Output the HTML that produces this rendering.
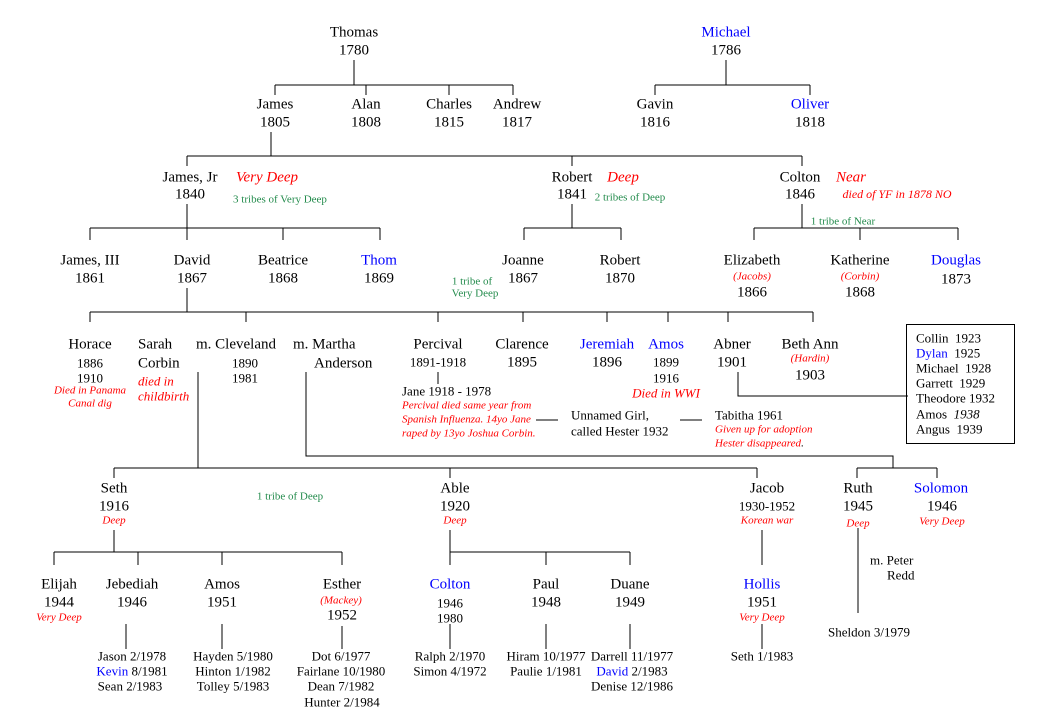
<!DOCTYPE html>
<html><head><meta charset="utf-8"><style>
body{margin:0;width:1043px;height:715px;background:#fff;position:relative;overflow:hidden;font-family:"Liberation Serif",serif;color:#000}
.t{position:absolute;transform:translate(-50%,-50%);white-space:nowrap;font-size:15px;line-height:1}
.l{position:absolute;transform:translateY(-50%);white-space:nowrap;font-size:13px;line-height:1}
.s{font-size:13px}
.b{color:#0000ff}
.r{color:#ff0000;font-style:italic;font-size:11px}
.rb{color:#ff0000;font-style:italic;font-size:15px}
.g{color:#238b4c;font-size:11px}
svg{position:absolute;left:0;top:0}
</style></head><body>
<svg width="1043" height="715" stroke="#000" stroke-width="1" fill="none" shape-rendering="crispEdges">
<path d="M354 60V85M275 85H513M275 85V95M366 85V95M449 85V95M513 85V95"/>
<path d="M726 60V85M655 85H810M655 85V95M810 85V95"/>
<path d="M271 132V156M187 156H802M187 156V166M572 156V166M802 156V166"/>
<path d="M187 204V228M90 228H380M90 228V240M187 228V240M283 228V240M380 228V240"/>
<path d="M572 204V228M524 228H621M524 228V240M621 228V240"/>
<path d="M802 204V228M754 228H958M754 228V240M860 228V240M958 228V240"/>
<path d="M187 288V312M90 312H813M90 312V322M246 312V322M438 312V322M523 312V322M607 312V322M668 312V322M728 312V322M813 312V322"/>
<path d="M438 372V384M536 420H558M680 420H702"/>
<path d="M738 372V396H908"/>
<rect x="906.5" y="324.5" width="108" height="119"/>
<path d="M198 372V468M114 468H757M114 468V478M450 468V478M757 468V478"/>
<path d="M306 372V456H893V468M857 468H937M857 468V478M937 468V478"/>
<path d="M114 530V552M54 552H342M54 552V565M138 552V565M222 552V565M342 552V565"/>
<path d="M126 624V649M222 624V649M342 626V649"/>
<path d="M450 530V552H630M450 552V565M546 552V565M630 552V565"/>
<path d="M450 624V649M546 624V649M630 624V649"/>
<path d="M762 530V565M762 624V649M858 528V613"/>
</svg>

<div class="t" style="left:354px;top:33px">Thomas</div><div class="t" style="left:354px;top:51px">1780</div>
<div class="t b" style="left:726px;top:33px">Michael</div><div class="t" style="left:726px;top:51px">1786</div>

<div class="t" style="left:275px;top:105px">James</div><div class="t" style="left:275px;top:123px">1805</div>
<div class="t" style="left:366px;top:105px">Alan</div><div class="t" style="left:366px;top:123px">1808</div>
<div class="t" style="left:449px;top:105px">Charles</div><div class="t" style="left:449px;top:123px">1815</div>
<div class="t" style="left:517px;top:105px">Andrew</div><div class="t" style="left:517px;top:123px">1817</div>
<div class="t" style="left:655px;top:105px">Gavin</div><div class="t" style="left:655px;top:123px">1816</div>
<div class="t b" style="left:810px;top:105px">Oliver</div><div class="t" style="left:810px;top:123px">1818</div>

<div class="t" style="left:190px;top:178px">James, Jr</div><div class="t" style="left:190px;top:195px">1840</div>
<div class="t rb" style="left:267px;top:178px">Very Deep</div>
<div class="t g" style="left:280px;top:200px">3 tribes of Very Deep</div>
<div class="t" style="left:572px;top:178px">Robert</div><div class="t" style="left:572px;top:195px">1841</div>
<div class="t rb" style="left:623px;top:178px">Deep</div>
<div class="t g" style="left:630px;top:198px">2 tribes of Deep</div>
<div class="t" style="left:800px;top:178px">Colton</div><div class="t" style="left:800px;top:195px">1846</div>
<div class="t rb" style="left:851px;top:178px">Near</div>
<div class="t r" style="left:897px;top:194px;font-size:12px">died of YF in 1878 NO</div>
<div class="t g" style="left:843px;top:222px">1 tribe of Near</div>

<div class="t" style="left:90px;top:261px">James, III</div><div class="t" style="left:90px;top:279px">1861</div>
<div class="t" style="left:192px;top:261px">David</div><div class="t" style="left:192px;top:279px">1867</div>
<div class="t" style="left:283px;top:261px">Beatrice</div><div class="t" style="left:283px;top:279px">1868</div>
<div class="t b" style="left:379px;top:261px">Thom</div><div class="t" style="left:379px;top:279px">1869</div>
<div class="t" style="left:523px;top:261px">Joanne</div><div class="t" style="left:523px;top:279px">1867</div>
<div class="t" style="left:620px;top:261px">Robert</div><div class="t" style="left:620px;top:279px">1870</div>
<div class="t g" style="left:472px;top:282px">1 tribe of</div><div class="t g" style="left:475px;top:294px">Very Deep</div>
<div class="t" style="left:752px;top:261px">Elizabeth</div><div class="t r" style="left:752px;top:277px">(Jacobs)</div><div class="t" style="left:752px;top:293px">1866</div>
<div class="t" style="left:860px;top:261px">Katherine</div><div class="t r" style="left:860px;top:277px">(Corbin)</div><div class="t" style="left:860px;top:293px">1868</div>
<div class="t b" style="left:956px;top:261px">Douglas</div><div class="t" style="left:956px;top:280px">1873</div>

<div class="t" style="left:90px;top:345px">Horace</div><div class="t s" style="left:90px;top:363px">1886</div><div class="t s" style="left:90px;top:378px">1910</div>
<div class="t r" style="left:90px;top:391px">Died in Panama</div><div class="t r" style="left:90px;top:404px">Canal dig</div>
<div class="l" style="left:138px;top:345px;font-size:15px">Sarah</div><div class="l" style="left:138px;top:364px;font-size:15px">Corbin</div>
<div class="l r" style="left:138px;top:381px;font-size:13px">died in</div><div class="l r" style="left:138px;top:396px;font-size:13px">childbirth</div>
<div class="t" style="left:236px;top:345px">m. Cleveland</div><div class="t s" style="left:245px;top:363px">1890</div><div class="t s" style="left:245px;top:378px">1981</div>
<div class="l" style="left:293px;top:345px;font-size:15px">m. Martha</div><div class="l" style="left:314px;top:364px;font-size:15px">Anderson</div>
<div class="t" style="left:438px;top:345px">Percival</div><div class="t s" style="left:438px;top:362px">1891-1918</div>
<div class="l" style="left:402px;top:391px">Jane 1918 - 1978</div>
<div class="l r" style="left:402px;top:406px">Percival died same year from</div>
<div class="l r" style="left:402px;top:420px">Spanish Influenza. 14yo Jane</div>
<div class="l r" style="left:402px;top:434px">raped by 13yo Joshua Corbin.</div>
<div class="t" style="left:522px;top:345px">Clarence</div><div class="t" style="left:522px;top:363px">1895</div>
<div class="t b" style="left:607px;top:345px">Jeremiah</div><div class="t" style="left:607px;top:363px">1896</div>
<div class="t b" style="left:666px;top:345px">Amos</div><div class="t s" style="left:666px;top:362px">1899</div><div class="t s" style="left:666px;top:378px">1916</div>
<div class="t r" style="left:666px;top:393px;font-size:13px">Died in WWI</div>
<div class="t" style="left:732px;top:345px">Abner</div><div class="t" style="left:732px;top:363px">1901</div>
<div class="t" style="left:810px;top:345px">Beth Ann</div><div class="t r" style="left:810px;top:359px">(Hardin)</div><div class="t" style="left:810px;top:376px">1903</div>
<div class="l" style="left:571px;top:415px">Unnamed Girl,</div><div class="l" style="left:571px;top:431px">called Hester 1932</div>
<div class="l" style="left:715px;top:415px">Tabitha 1961</div>
<div class="l r" style="left:715px;top:430px">Given up for adoption</div>
<div class="l r" style="left:715px;top:444px">Hester disappeared<span style="color:#000">.</span></div>
<div class="l" style="left:916px;top:338px">Collin&nbsp; 1923</div>
<div class="l" style="left:916px;top:353px"><span class="b">Dylan</span>&nbsp; 1925</div>
<div class="l" style="left:916px;top:368px">Michael&nbsp; 1928</div>
<div class="l" style="left:916px;top:383px">Garrett&nbsp; 1929</div>
<div class="l" style="left:916px;top:398px">Theodore&nbsp;1932</div>
<div class="l" style="left:916px;top:414px">Amos&nbsp; <i>1938</i></div>
<div class="l" style="left:916px;top:429px">Angus&nbsp; 1939</div>

<div class="t" style="left:114px;top:489px">Seth</div><div class="t" style="left:114px;top:507px">1916</div><div class="t r" style="left:114px;top:521px">Deep</div>
<div class="t g" style="left:290px;top:497px">1 tribe of Deep</div>
<div class="t" style="left:455px;top:489px">Able</div><div class="t" style="left:455px;top:507px">1920</div><div class="t r" style="left:455px;top:521px">Deep</div>
<div class="t" style="left:767px;top:489px">Jacob</div><div class="t s" style="left:767px;top:506px">1930-1952</div><div class="t r" style="left:767px;top:521px">Korean war</div>
<div class="t" style="left:858px;top:489px">Ruth</div><div class="t" style="left:858px;top:507px">1945</div><div class="t r" style="left:858px;top:524px">Deep</div>
<div class="t b" style="left:941px;top:489px">Solomon</div><div class="t" style="left:942px;top:507px">1946</div><div class="t r" style="left:942px;top:522px">Very Deep</div>
<div class="l" style="left:870px;top:560px">m. Peter</div><div class="l" style="left:887px;top:575px">Redd</div>
<div class="t s" style="left:869px;top:632px">Sheldon 3/1979</div>

<div class="t" style="left:59px;top:585px">Elijah</div><div class="t" style="left:59px;top:603px">1944</div><div class="t r" style="left:59px;top:618px">Very Deep</div>
<div class="t" style="left:132px;top:585px">Jebediah</div><div class="t" style="left:132px;top:603px">1946</div>
<div class="t" style="left:222px;top:585px">Amos</div><div class="t" style="left:222px;top:603px">1951</div>
<div class="t" style="left:342px;top:585px">Esther</div><div class="t r" style="left:341px;top:601px">(Mackey)</div><div class="t" style="left:342px;top:616px">1952</div>
<div class="t s" style="left:132px;top:656px">Jason 2/1978</div>
<div class="t s" style="left:132px;top:671px"><span class="b">Kevin</span> 8/1981</div>
<div class="t s" style="left:130px;top:686px">Sean 2/1983</div>
<div class="t s" style="left:233px;top:656px">Hayden 5/1980</div>
<div class="t s" style="left:233px;top:671px">Hinton 1/1982</div>
<div class="t s" style="left:233px;top:686px">Tolley 5/1983</div>
<div class="t s" style="left:341px;top:656px">Dot 6/1977</div>
<div class="t s" style="left:341px;top:671px">Fairlane 10/1980</div>
<div class="t s" style="left:341px;top:686px">Dean 7/1982</div>
<div class="t s" style="left:342px;top:702px">Hunter 2/1984</div>

<div class="t b" style="left:450px;top:585px">Colton</div><div class="t s" style="left:450px;top:603px">1946</div><div class="t s" style="left:450px;top:618px">1980</div>
<div class="t" style="left:546px;top:585px">Paul</div><div class="t" style="left:546px;top:603px">1948</div>
<div class="t" style="left:630px;top:585px">Duane</div><div class="t" style="left:630px;top:603px">1949</div>
<div class="t s" style="left:450px;top:656px">Ralph 2/1970</div>
<div class="t s" style="left:450px;top:671px">Simon 4/1972</div>
<div class="t s" style="left:546px;top:656px">Hiram 10/1977</div>
<div class="t s" style="left:546px;top:671px">Paulie 1/1981</div>
<div class="t s" style="left:632px;top:656px">Darrell 11/1977</div>
<div class="t s" style="left:632px;top:671px"><span class="b">David</span> 2/1983</div>
<div class="t s" style="left:632px;top:686px">Denise 12/1986</div>

<div class="t b" style="left:762px;top:585px">Hollis</div><div class="t" style="left:762px;top:603px">1951</div><div class="t r" style="left:762px;top:618px">Very Deep</div>
<div class="t s" style="left:762px;top:656px">Seth 1/1983</div>
</body></html>
